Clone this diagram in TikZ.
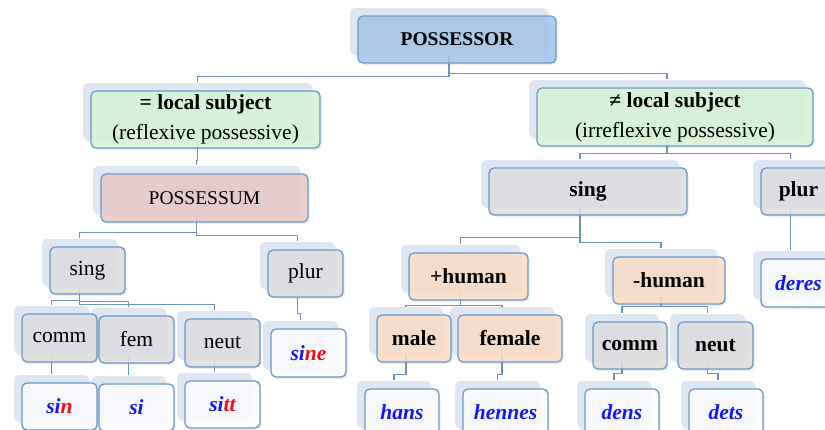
\documentclass[tikz,border=0pt]{standalone}
\usepackage{fontspec}
\setmainfont{Liberation Serif}
\usetikzlibrary{shadows,backgrounds}
\definecolor{bord}{RGB}{109,151,201}
\definecolor{linec}{RGB}{107,148,196}
\definecolor{backc}{RGB}{222,230,242}
\definecolor{cblue}{RGB}{167,199,232}
\definecolor{cgreen}{RGB}{214,246,214}
\definecolor{cpink}{RGB}{234,202,202}
\definecolor{cgrey}{RGB}{223,223,224}
\definecolor{cpeach}{RGB}{250,222,200}
\definecolor{cwhite}{RGB}{252,253,255}
\definecolor{wblue}{RGB}{16,24,250}
\definecolor{wred}{RGB}{250,10,20}
\tikzset{
  box/.style={draw=bord, line width=1.3pt, rounded corners=5pt, fill opacity=0.88, text opacity=1,
    inner sep=0pt, align=center, minimum height=47pt,
    general shadow={shadow xshift=-6.5pt, shadow yshift=6pt, fill=black, fill opacity=0.06, draw=none},
    general shadow={shadow xshift=-8pt, shadow yshift=8pt, fill=backc, fill opacity=1, draw=none},
    general shadow={shadow xshift=1.5pt, shadow yshift=-2pt, fill=black, fill opacity=0.07, draw=none}},
  lc/.style={font=\fontsize{21.5}{30}\selectfont},
  lcb/.style={font=\fontsize{21.5}{30}\selectfont\bfseries},
  capn/.style={font=\fontsize{19.5}{24}\selectfont},
  capb/.style={font=\fontsize{19.5}{24}\selectfont\bfseries},
  leaf/.style={box, fill=cwhite, font=\fontsize{21.5}{24}\selectfont\bfseries\itshape, text=wblue},
  link/.style={draw=linec, line width=1.5pt},
}
\newcommand\joinbox[3]{\draw[link] ([shift={(-8,-8)}]#1.south) -- ++(0,#3) -| ([shift={(-8,-8)}]#2.north);}
\newcommand\wordblue[1]{{\color{wblue}#1}}
\newcommand\wordred[1]{{\color{wred}#1}}
\begin{document}
\begin{tikzpicture}[x=1pt,y=-1pt]
\useasboundingbox (0,0) rectangle (825,429);
% level 0
\node[box, fill=cblue, capb, minimum width=198pt] (possessor) at (457,39.5) {POSSESSOR};
% level 1
\node[box, fill=cgreen, lc, minimum width=276pt, minimum height=58pt] (rsub) at (675,117)
  {\textbf{≠ local subject}\\(irreflexive possessive)};
\node[box, fill=cgreen, lc, minimum width=229pt, minimum height=57pt] (lsub) at (205.5,119.5)
  {\textbf{= local subject}\\(reflexive possessive)};
% level 2
\node[box, fill=cgrey, lcb, minimum width=75pt] (rplur) at (798.5,191.5) {plur};
\node[box, fill=cgrey, lcb, minimum width=198pt] (rsing) at (588,191.5) {sing};
\node[box, fill=cpink, capn, minimum width=207pt, minimum height=48pt] (possessum) at (204.5,198) {POSSESSUM};
% level 3
\node[leaf, minimum width=75pt, minimum height=48pt] (deres) at (798.5,283) {deres};
\node[box, fill=cpeach, lcb, minimum width=112pt] (mhum) at (669,280.5) {-human};
\node[box, fill=cpeach, lcb, minimum width=119pt] (phum) at (468.5,276.5) {+human};
\node[box, fill=cgrey, lc, minimum width=75pt] (lplur) at (305.5,273.5) {plur};
\node[box, fill=cgrey, lc, minimum width=75pt] (lsing) at (87.5,270.5) {sing};
% level 4
\node[box, fill=cgrey, lcb, minimum width=75pt] (rneut) at (715.5,345.5) {neut};
\node[box, fill=cgrey, lcb, minimum width=74pt] (rcomm) at (630,345.5) {comm};
\node[box, fill=cpeach, lcb, minimum width=104pt] (female) at (510,338.5) {female};
\node[box, fill=cpeach, lcb, minimum width=74pt] (male) at (414,338.5) {male};
\node[leaf, minimum width=75pt, minimum height=48pt] (sine) at (308.5,353) {\wordblue{si}\wordred{ne}};
\node[box, fill=cgrey, lc, minimum width=75pt, minimum height=48pt] (lneut) at (222.5,343) {neut};
\node[box, fill=cgrey, lc, minimum width=75pt] (lfem) at (136.5,339.5) {fem};
\node[box, fill=cgrey, lc, minimum width=75pt, minimum height=48pt] (lcomm) at (59.5,338) {comm};
% level 5
\node[leaf, minimum width=74pt] (dets) at (726,412.5) {dets};
\node[leaf, minimum width=74pt] (dens) at (622,412.5) {dens};
\node[leaf, minimum width=85pt] (hennes) at (505.5,412.5) {hennes};
\node[leaf, minimum width=74pt] (hans) at (402,412.5) {hans};
\node[leaf, minimum width=75pt] (sitt) at (222.5,404.5) {\wordblue{si}\wordred{tt}};
\node[leaf, minimum width=75pt] (si) at (136.5,407.5) {\wordblue{si}};
\node[leaf, minimum width=75pt] (sin) at (59.5,406.5) {\wordblue{si}\wordred{n}};
% connectors
\begin{pgfonlayer}{background}
\joinbox{possessor}{lsub}{21}
\joinbox{possessor}{rsub}{18}
\joinbox{lsub}{possessum}{20}
\joinbox{possessum}{lsing}{18}
\joinbox{possessum}{lplur}{21}
\joinbox{lsing}{lcomm}{14}
\joinbox{lsing}{lfem}{15}
\joinbox{lsing}{lneut}{18}
\joinbox{lplur}{sine}{24}
\joinbox{lcomm}{sin}{10}
\joinbox{lfem}{si}{10}
\joinbox{lneut}{sitt}{7}
\joinbox{rsub}{rsing}{15}
\joinbox{rsub}{rplur}{15}
\joinbox{rsing}{phum}{30}
\joinbox{rsing}{mhum}{35}
\joinbox{phum}{male}{13}
\joinbox{phum}{female}{13}
\joinbox{mhum}{rcomm}{10}
\joinbox{mhum}{rneut}{10}
\joinbox{rplur}{deres}{20}
\joinbox{male}{hans}{20}
\joinbox{female}{hennes}{20}
\joinbox{rcomm}{dens}{12}
\joinbox{rneut}{dets}{12}
\end{pgfonlayer}
\end{tikzpicture}
\end{document}
